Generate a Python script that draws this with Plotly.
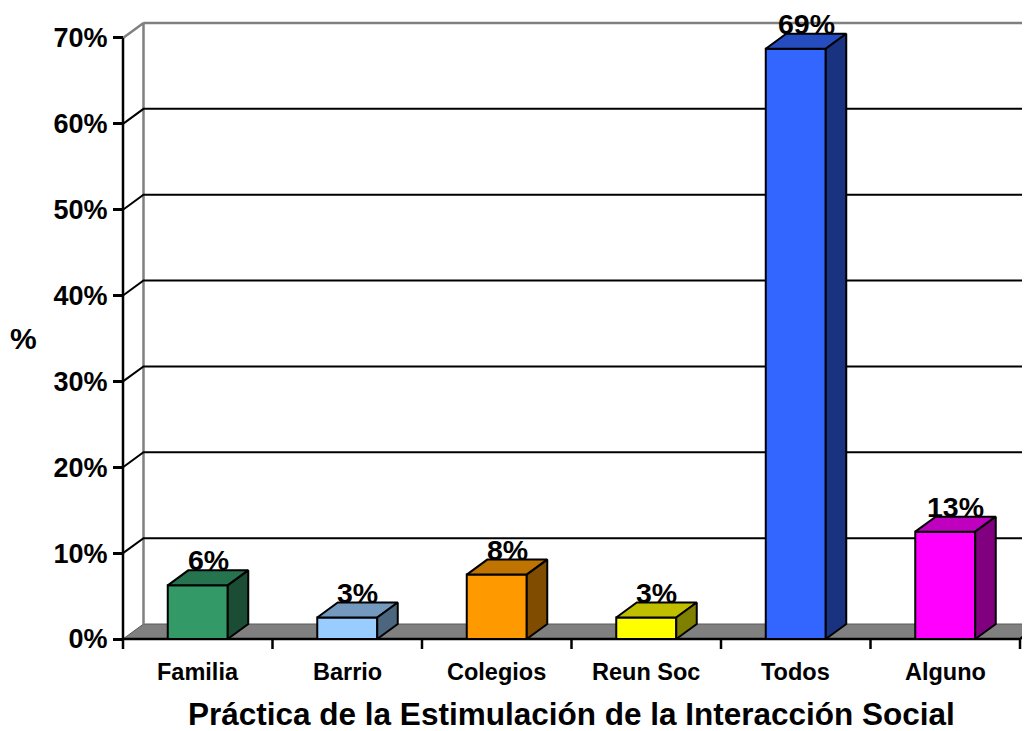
import plotly.graph_objects as go

# ---------------- data ----------------
categories = ["Familia", "Barrio", "Colegios", "Reun Soc", "Todos", "Alguno"]
values = [6.25, 2.5, 7.5, 2.5, 68.75, 12.5]
value_labels = ["6%", "3%", "8%", "3%", "69%", "13%"]
y_ticks = [0, 10, 20, 30, 40, 50, 60, 70]
y_tick_labels = ["0%", "10%", "20%", "30%", "40%", "50%", "60%", "70%"]
front_colors = ["#339966", "#99CCFF", "#FF9900", "#FFFF00", "#3366FF", "#FF00FF"]
top_colors = ["#267350", "#7399BF", "#BF7300", "#BFBF00", "#264DBF", "#BF00BF"]
side_colors = ["#1A4D33", "#4D6680", "#804D00", "#808000", "#1A3380", "#800080"]
title_text = "Práctica de la Estimulación de la Interacción Social"
y_title_text = "%"

# ---------------- layout geometry ----------------
OFF = 8               # page body margin in the browser
W, H = 1030 - OFF, 731 - OFF
PX_X = 149.5          # pixels per category
PX_Y = 8.586          # pixels per percent
X0_PX, Y0_PX = 123 - OFF, 639 - OFF
L, T, B = 113 - OFF, 20 - OFF, 79
DX = 20.5 / PX_X      # 3-D depth offset (x units)
DY = 15.0 / PX_Y      # 3-D depth offset (y units)
BAR_W = 60.0 / PX_X
TICK_Y = 10.0 / PX_Y
x_range = [-(X0_PX - L) / PX_X, (W - X0_PX) / PX_X]
y_range = [-(H - B - Y0_PX) / PX_Y, (Y0_PX - T) / PX_Y]
n = len(categories)
centers = [i + 0.5 for i in range(n)]
x_end = x_range[1] + 0.2
ymax = y_ticks[-1]

FONT = "Liberation Sans, Arial, sans-serif"
GRAY = "#808080"

fig = go.Figure()

def line(xs, ys, color, width, z=0):
    fig.add_trace(go.Scatter(x=xs, y=ys, mode="lines", line=dict(color=color, width=width),
                             hoverinfo="skip", showlegend=False, zorder=z))

def poly(xs, ys, fill, color="black", width=1.5, z=0):
    fig.add_trace(go.Scatter(x=xs, y=ys, mode="lines", fill="toself", fillcolor=fill,
                             line=dict(color=color, width=width), hoverinfo="skip",
                             showlegend=False, zorder=z))

# floor
poly([0, n, n + DX, x_end, x_end, DX, 0], [0, 0, DY, DY, DY, DY, 0], GRAY, color="#5a5a5a", width=1)

# back wall edges
line([0, DX, DX], [ymax, ymax + DY, DY], GRAY, 2.5)
line([DX, x_end], [ymax + DY, ymax + DY], GRAY, 2.5)

# gridlines (diagonal on side wall + horizontal on back wall)
for v in y_ticks[1:-1]:
    line([0, DX, x_end], [v, v + DY, v + DY], "black", 2)

# front axis lines and category boundary ticks
line([0, 0], [-TICK_Y, ymax], "black", 2.5)
line([0, n, n + DX], [0, 0, DY], "black", 2.5)
bx, by = [], []
for b in range(1, n + 1):
    bx += [b, b, None]
    by += [0, -TICK_Y, None]
line(bx, by, "black", 2.5)

# bars: front faces
fig.add_trace(go.Bar(x=centers, y=values, width=BAR_W,
                     marker=dict(color=front_colors, line=dict(color="black", width=2)),
                     hoverinfo="skip", showlegend=False, zorder=1))

# bars: top and side faces
for c, v, tc, sc in zip(centers, values, top_colors, side_colors):
    xl, xr = c - BAR_W / 2, c + BAR_W / 2
    poly([xl, xl + DX, xr + DX, xr, xl], [v, v + DY, v + DY, v, v], tc, width=2, z=1)
    poly([xr, xr + DX, xr + DX, xr, xr], [0, DY, v + DY, v, 0], sc, width=2, z=1)

annotations = []
for c, v, lab in zip(centers, values, value_labels):
    annotations.append(dict(x=c + DX / 2, y=v + DY, xref="x", yref="y", text=lab,
                            showarrow=False, yanchor="bottom", yshift=-7, borderpad=0,
                            font=dict(family=FONT, size=28.5, color="black", weight="bold")))
for c, cat in zip(centers, categories):
    annotations.append(dict(x=c, y=0, xref="x", yref="y", text=cat, showarrow=False,
                            yanchor="middle", yshift=-33, borderpad=0,
                            font=dict(family=FONT, size=23.5, color="black", weight="bold")))
annotations.append(dict(x=(x_range[0] + x_range[1]) / 2, y=0, xref="x", yref="y",
                        text=title_text, showarrow=False, yanchor="middle", yshift=-75,
                        borderpad=0,
                        font=dict(family=FONT, size=31.5, color="black", weight="bold")))
annotations.append(dict(x=(23.5 - OFF - L) / (W - L), y=(Y0_PX - (338 - OFF)) / PX_Y,
                        xref="paper", yref="y", borderpad=0,
                        text=y_title_text, showarrow=False, xanchor="center", yanchor="middle",
                        font=dict(family=FONT, size=30, color="black", weight="bold")))

fig.update_layout(
    width=W, height=H,
    margin=dict(l=L, r=0, t=T, b=B, pad=0),
    paper_bgcolor="white", plot_bgcolor="white",
    showlegend=False,
    xaxis=dict(range=x_range, visible=False, fixedrange=True),
    yaxis=dict(range=y_range, tickvals=y_ticks, ticktext=y_tick_labels,
               anchor="free", position=(X0_PX - L) / (W - L),
               showline=False, showgrid=False, zeroline=False,
               ticks="outside", ticklen=10, tickwidth=2.5, tickcolor="black",
               tickfont=dict(family=FONT, size=27, color="black", weight="bold")),
    annotations=annotations,
)

fig.write_html("out.html")
